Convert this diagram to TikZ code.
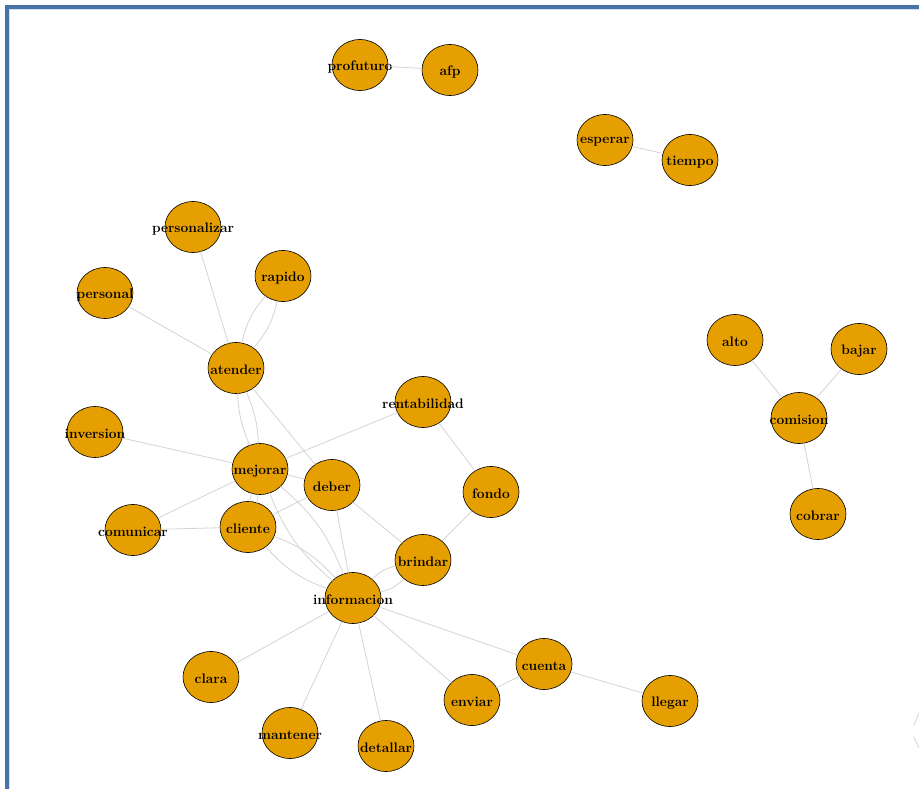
\documentclass[tikz,border=0pt]{standalone}
\usetikzlibrary{shapes.geometric}
\begin{document}
\begin{tikzpicture}[x=1pt, y=-1pt, line cap=round, line join=round,
  vertex/.style={ellipse, draw=black, line width=0.6pt, fill=wdfill, minimum width=56pt, minimum height=51pt, inner sep=0pt},
  word/.style={font=\fontsize{13.8}{14}\selectfont\bfseries, text=black, inner sep=0pt, yshift=-2pt},
  edge/.style={draw=wdedge, line width=0.8pt}]
\definecolor{wdfill}{HTML}{E69F00}
\definecolor{wdedge}{HTML}{D4D4D4}
\definecolor{wdframe}{HTML}{4674A5}
\definecolor{wdframein}{HTML}{D2E2F2}
\useasboundingbox (0,0) rectangle (919,789);
\fill[white] (0,0) rectangle (919,789);
% ---- window frame (left and top only) ----
\fill[wdframe] (5,5) rectangle (919,9);
\fill[wdframe] (5,5) rectangle (9,789);
\draw[wdframein, line width=0.8pt] (9.5,789) -- (9.5,9.5) -- (919,9.5);
% ---- words ----
\foreach \n/\x/\y in {profuturo/360/65, afp/450/70, esperar/605/140, tiempo/690/160,
    personalizar/193/227, rapido/283/276, personal/105/293, atender/236/368,
    rentabilidad/423/402, inversion/95/432, mejorar/260/469, deber/332/485,
    fondo/491/492, comunicar/133/530, cliente/248/527, brindar/423/560,
    informacion/353/598, clara/211/677, cuenta/544/664, enviar/472/700,
    llegar/670/701, mantener/290/733, detallar/386/746,
    alto/735/340, bajar/859/349, comision/799/418, cobrar/818/514} {
  \node[vertex, label={[word]center:\n}] (\n) at (\x,\y) {};
}
% ---- single links ----
\foreach \a/\b in {profuturo/afp, esperar/tiempo, personalizar/atender, personal/atender,
    atender/deber, rentabilidad/mejorar, rentabilidad/fondo, fondo/brindar,
    inversion/mejorar, comunicar/mejorar, comunicar/cliente, mejorar/deber,
    cliente/deber, deber/informacion, deber/brindar, informacion/clara,
    informacion/mantener, informacion/detallar, informacion/enviar, informacion/cuenta,
    enviar/cuenta, cuenta/llegar, alto/comision, bajar/comision, comision/cobrar} {
  \draw[edge] (\a) -- (\b);
}
% ---- double links ----
\foreach \a/\b/\k in {atender/rapido/14, atender/mejorar/10, mejorar/cliente/8,
    mejorar/informacion/14, cliente/informacion/14, brindar/informacion/16} {
  \draw[edge] (\a) to[bend left=\k] (\b);
  \draw[edge] (\a) to[bend right=\k] (\b);
}
% ---- cut-off mark at the right edge ----
\draw[wdedge, line width=0.8pt] (914,725) -- (919,713) (914,737) -- (919,748);
\end{tikzpicture}
\end{document}
